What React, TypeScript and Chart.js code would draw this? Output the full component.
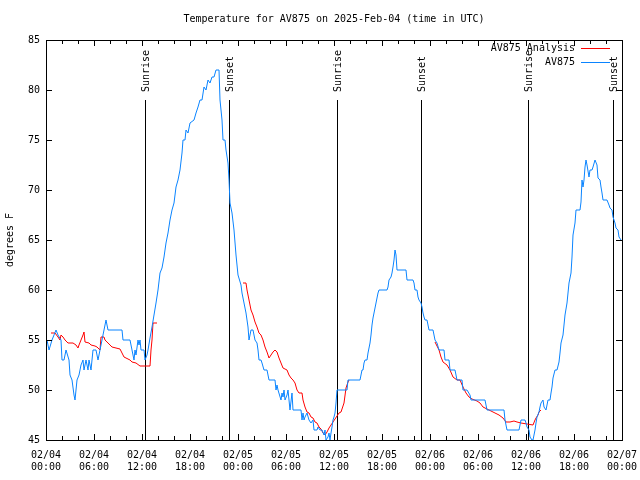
import React, { useEffect, useRef } from "react";
import { Chart, registerables } from "chart.js";
Chart.register(...registerables);

// hours since 02/04 00:00 UTC
const blueHours = [
  0.125, 0.375, 0.75, 1.25, 1.5, 1.875, 2.0, 2.25, 2.5, 2.875, 3.0, 3.25, 3.5, 3.625, 3.875, 4.125, 4.375, 4.625, 4.75, 5.0,
  5.25, 5.375, 5.625, 5.875, 6.25, 6.5, 6.75, 7.0, 7.25, 7.5, 7.625, 7.75, 9.5, 9.625, 10.5, 10.75, 11.0, 11.125, 11.25, 11.5,
  11.625, 11.75, 11.875, 12.25, 12.375, 12.625, 12.75, 13.0, 13.25, 13.5, 13.75, 14.0, 14.25, 14.5, 14.75, 15.0, 15.25, 15.5, 15.75, 16.0,
  16.25, 16.5, 16.75, 17.0, 17.125, 17.375, 17.5, 17.75, 18.0, 18.5, 18.75, 19.0, 19.25, 19.5, 19.75, 20.0, 20.25, 20.5, 20.75, 21.0,
  21.25, 21.625, 21.75, 22.0, 22.125, 22.375, 22.5, 22.75, 22.875, 23.0, 23.25, 23.5, 23.75, 24.0, 24.375, 24.5, 24.75, 25.0, 25.125, 25.25,
  25.375, 25.5, 25.625, 25.875, 26.0, 26.125, 26.375, 26.5, 26.625, 26.875, 27.0, 27.25, 27.625, 27.875, 28.625, 28.75, 28.875, 29.0, 29.375, 29.5,
  29.625, 29.75, 29.875, 30.125, 30.25, 30.375, 30.5, 30.75, 30.875, 31.875, 32.0, 32.125, 32.25, 32.375, 32.625, 32.875, 33.125, 33.375, 33.5, 33.875,
  34.0, 34.25, 34.5, 34.75, 34.875, 35.0, 35.25, 35.375, 35.5, 35.625, 35.75, 35.875, 36.0, 36.125, 36.25, 36.375, 37.625, 37.75, 39.25, 39.375,
  39.5, 39.625, 39.75, 39.875, 40.125, 40.25, 40.375, 40.5, 40.625, 40.75, 40.875, 41.0, 41.125, 41.25, 41.375, 41.5, 41.625, 42.625, 42.75, 42.875,
  43.125, 43.25, 43.375, 43.5, 43.625, 43.75, 43.875, 45.0, 45.125, 45.875, 46.0, 46.125, 46.375, 46.5, 46.625, 46.875, 47.0, 47.125, 47.25, 47.375,
  47.625, 47.75, 47.875, 48.375, 48.625, 48.875, 49.125, 49.75, 49.875, 50.375, 50.5, 51.125, 51.375, 52.0, 52.125, 52.625, 53.0, 53.125, 54.875, 55.125,
  57.25, 57.375, 57.625, 59.125, 59.25, 59.375, 59.875, 60.0, 60.125, 60.375, 60.5, 60.75, 60.875, 61.125, 61.25, 61.375, 61.625, 61.75, 61.875, 62.125,
  62.25, 62.5, 62.625, 62.75, 63.0, 63.125, 63.25, 63.375, 63.625, 63.875, 64.125, 64.25, 64.375, 64.625, 64.75, 64.875, 65.125, 65.25, 65.375, 65.625,
  65.75, 65.875, 66.125, 66.25, 66.75, 66.875, 67.0, 67.125, 67.25, 67.375, 67.5, 67.625, 67.875, 68.0, 68.25, 68.375, 68.625, 68.875, 69.0, 69.25,
  69.375, 69.5, 69.625, 70.125, 70.375, 70.5, 70.75, 70.875, 71.125, 71.25, 71.5, 71.625, 71.875,
];
const blueTemps = [
  55, 54, 55, 56, 55.5, 55, 53, 53, 54, 53, 51.5, 51, 49.5, 49, 51, 51.5, 52.5, 53, 52, 53,
  52, 53, 52, 54, 54, 53, 54, 55, 56, 57, 56.5, 56, 56, 55, 55, 54, 53, 54, 53.5, 55,
  54.5, 55, 54, 54, 53, 53.5, 54, 55.2, 56.3, 57.5, 58.7, 60, 61.7, 62.2, 63.3, 64.7, 65.7, 67, 68, 68.7,
  70.3, 71, 72, 73.7, 75, 75, 76, 75.7, 76.7, 77, 77.7, 78.3, 79, 79, 80.3, 80, 81, 80.7, 81.3, 81.3,
  82, 82, 79, 77, 75, 75, 74, 72.7, 71, 68.7, 67.7, 66, 63.5, 61.5, 60.5, 59.7, 58.7, 57.7, 57, 56.3,
  55, 55.5, 56, 56, 55.5, 55, 54.7, 54, 53, 53, 52.7, 52, 52, 51, 51, 50, 50.5, 50, 49, 49.7,
  49.3, 50, 49, 49.5, 50, 49, 48, 49.7, 48, 48, 47, 47.7, 47, 47.3, 47.7, 47, 46.7, 47, 46, 46,
  46.3, 46, 46, 45.5, 46, 45, 45.3, 45.7, 45, 45.7, 46.3, 47, 47.3, 47.7, 48.7, 50, 50, 51, 51, 51.5,
  52, 52, 52.7, 53, 53, 53.7, 54.2, 54.7, 55.5, 56.5, 57.2, 57.7, 58.2, 58.7, 59.2, 59.7, 60, 60, 60.3, 61,
  61.3, 61.7, 62.3, 63, 64, 63.5, 62, 62, 61, 61, 60.7, 60, 60, 59.3, 59, 58.7, 58.3, 57.7, 57.3, 57,
  57, 56.5, 56, 56, 55, 54.7, 54, 54, 53, 53, 52, 52, 51, 51, 50, 50, 49.5, 49, 49, 48,
  48, 47, 46, 46, 46.5, 47, 47, 46.7, 46.3, 46, 45.3, 45, 45, 46, 46.7, 47.3, 47.8, 48.3, 48.7, 49,
  48.3, 48, 48.5, 49, 49, 49.7, 50.3, 51.2, 52, 52, 52.8, 53.7, 54.7, 55.5, 56.5, 57.5, 58.7, 59.7, 60.7, 61.7,
  63.3, 65.5, 66.7, 68, 68, 68.8, 71, 70.3, 71, 72.3, 73, 72.5, 71.3, 72, 72, 72.3, 73, 72.5, 71.2, 71,
  70.3, 69.7, 69, 69, 68.5, 68.2, 68, 67.3, 66.7, 66.2, 66, 65.3, 65,
];

// analysis series; null marks a gap
const redHours = [
  0.625, 1.125, 1.5, 1.75, 1.875, 2.125, 2.375, 2.625, 2.75, 3.375, 3.75, 4.0, 4.125, 4.375, 4.625, 4.75, 4.875, 5.375, 5.625, 6.125,
  6.375, 6.75, 6.875, 7.25, 7.375, 7.75, 8.25, 8.75, 9.25, 9.5, 9.75, 10.0, 10.5, 10.75, 11.25, 11.75, 13.0, 13.125, 13.25, 13.375,
  13.875, 14.0,
  24.625, 25.0, 25.125, 25.375, 25.625, 25.875, 26.125, 26.375, 26.625, 26.875, 27.125, 27.375, 27.625, 27.875, 28.125, 28.375, 28.625, 28.875, 29.125, 29.375,
  29.625, 30.125, 30.375, 30.625, 30.875, 31.125, 31.375, 31.625, 32.0, 32.125, 32.375, 32.625, 32.875, 33.125, 33.375, 33.625, 33.875, 34.125, 34.375, 34.625,
  34.875, 35.125, 35.375, 35.625, 35.875, 36.125, 36.375, 36.625, 36.875, 37.25, 37.5, 37.75, 37.875, 38.0,
  48.625, 49.125, 49.375, 49.625, 50.125, 50.5, 50.875, 51.375, 51.75, 52.125, 52.5, 52.875, 53.25, 53.875, 54.25, 54.625, 55.125, 55.875, 56.625, 57.125,
  57.5, 58.0, 58.5, 58.875, 59.375, 60.125, 60.875, 61.125, 61.25, 61.5, 61.625, 61.875,
];
const redTemps = [
  55.7, 55.7, 55.3, 55, 55.5, 55.3, 55, 54.8, 54.7, 54.7, 54.5, 54.2, 54.5, 55, 55.5, 55.8, 54.8, 54.7, 54.5, 54.4,
  54.3, 54, 55.3, 55.3, 55, 54.7, 54.3, 54.2, 54.1, 53.7, 53.3, 53.2, 53, 52.8, 52.7, 52.4, 52.4, 54, 55, 56.7,
  56.7, null,
  60.7, 60.7, 60, 59, 58, 57.5, 56.8, 56.3, 55.7, 55.5, 55, 54.3, 53.8, 53.2, 53.5, 53.8, 54, 53.8, 53.2, 52.7,
  52.2, 52, 51.5, 51.2, 51, 50.7, 50, 49.7, 49.7, 49, 48.3, 47.8, 47.7, 47.3, 47.2, 46.8, 46.7, 46.3, 46.1, 45.7,
  45.5, 45.8, 46.2, 46.5, 46.8, 47.1, 47.4, 47.7, 47.8, 48.7, 50.2, 50.8, 51, null,
  54.8, 54, 53.3, 52.8, 52.5, 52, 51.3, 51, 51, 50.3, 49.7, 49.3, 49.1, 48.9, 48.7, 48.3, 48.1, 47.8, 47.5, 47.2,
  46.8, 46.8, 46.9, 46.8, 46.7, 46.6, 46.5, 47, 47.2, 47.5, 47.8, 48,
];

const xTickLabels = [
  ["02/04", "00:00"], ["02/04", "06:00"], ["02/04", "12:00"], ["02/04", "18:00"],
  ["02/05", "00:00"], ["02/05", "06:00"], ["02/05", "12:00"], ["02/05", "18:00"],
  ["02/06", "00:00"], ["02/06", "06:00"], ["02/06", "12:00"], ["02/06", "18:00"],
  ["02/07", "00:00"],
];

const sunLabels = ["Sunrise", "Sunset", "Sunrise", "Sunset", "Sunrise", "Sunset"];
const sunHours = [12.375, 22.875, 36.375, 46.875, 60.3, 70.875];

const TITLE = "Temperature for AV875 on 2025-Feb-04 (time in UTC)";
const Y_TITLE = "degrees F";
const FAMILY = '"DejaVu Sans Mono", "Liberation Mono", monospace';
const FONT = "10px " + FAMILY;

const decorPlugin = {
  id: "decor",
  beforeDatasetsDraw(chart: any) {
    const { ctx, chartArea, scales } = chart;
    ctx.save();
    ctx.strokeStyle = "#000";
    ctx.fillStyle = "#000";
    ctx.lineWidth = 1;
    ctx.font = FONT;
    sunHours.forEach((h, i) => {
      const x = Math.round(scales.x.getPixelForValue(h)) + 0.5;
      ctx.beginPath();
      ctx.moveTo(x, chartArea.top + 60);
      ctx.lineTo(x, chartArea.bottom);
      ctx.stroke();
      ctx.save();
      ctx.translate(x + 1, chartArea.top + 52);
      ctx.rotate(-Math.PI / 2);
      ctx.textAlign = "left";
      ctx.textBaseline = "middle";
      ctx.fillText(sunLabels[i], 0, 0);
      ctx.restore();
    });
    ctx.restore();
  },
  afterDraw(chart: any) {
    const { ctx, chartArea, scales } = chart;
    const { left, right, top, bottom } = chartArea;
    ctx.save();
    ctx.strokeStyle = "#000";
    ctx.fillStyle = "#000";
    ctx.lineWidth = 1;
    ctx.strokeRect(Math.round(left) + 0.5, Math.round(top) + 0.5, Math.round(right - left), Math.round(bottom - top));
    ctx.beginPath();
    scales.x.ticks.forEach((t: any) => {
      const x = Math.round(scales.x.getPixelForValue(t.value)) + 0.5;
      const len = t.value % 6 === 0 ? 6 : 4;
      ctx.moveTo(x, bottom);
      ctx.lineTo(x, bottom - len);
      ctx.moveTo(x, top);
      ctx.lineTo(x, top + len);
    });
    scales.y.ticks.forEach((t: any) => {
      const y = Math.round(scales.y.getPixelForValue(t.value)) + 0.5;
      ctx.moveTo(left, y);
      ctx.lineTo(left + 6, y);
      ctx.moveTo(right, y);
      ctx.lineTo(right - 6, y);
    });
    ctx.stroke();
    ctx.font = FONT;
    ctx.textAlign = "center";
    ctx.textBaseline = "middle";
    ctx.fillText(TITLE, (left + right) / 2, 19);
    ctx.save();
    ctx.translate(10, (top + bottom) / 2);
    ctx.rotate(-Math.PI / 2);
    ctx.fillText(Y_TITLE, 0, 0);
    ctx.restore();
    const ds = chart.data.datasets;
    ds.forEach((d: any, i: number) => {
      const y = top + 8 + i * 14;
      ctx.textAlign = "right";
      ctx.fillStyle = "#000";
      ctx.fillText(d.label, right - 47, y);
      ctx.strokeStyle = d.borderColor;
      ctx.beginPath();
      ctx.moveTo(right - 41, Math.round(y) + 0.5);
      ctx.lineTo(right - 12, Math.round(y) + 0.5);
      ctx.stroke();
    });
    ctx.restore();
  },
};

export default function App() {
  const ref = useRef<HTMLCanvasElement>(null);
  useEffect(() => {
    const redData = redHours.map((h, i) => ({ x: h, y: redTemps[i] }));
    const blueData = blueHours.map((h, i) => ({ x: h, y: blueTemps[i] }));
    const chart = new Chart(ref.current!, {
      type: "line",
      data: {
        datasets: [
          {
            label: "AV875 Analysis",
            data: redData as any,
            borderColor: "#ff0000",
            borderWidth: 1,
            pointRadius: 0,
            spanGaps: false,
            tension: 0,
            order: 2,
          },
          {
            label: "AV875",
            data: blueData as any,
            borderColor: "#0a84ff",
            borderWidth: 1,
            pointRadius: 0,
            tension: 0,
            order: 1,
          },
        ],
      },
      options: {
        responsive: false,
        animation: false,
        events: [],
        layout: { padding: { top: 40, right: 18, left: 0, bottom: 0 } },
        plugins: { legend: { display: false }, title: { display: false }, tooltip: { enabled: false } },
        scales: {
          x: {
            type: "linear",
            min: 0,
            max: 72,
            grid: { display: false, drawTicks: false },
            border: { display: false },
            ticks: {
              stepSize: 2,
              autoSkip: false,
              maxRotation: 0,
              minRotation: 0,
              padding: 9,
              color: "#000",
              font: { family: FAMILY, size: 10 },
              callback: (v: any) => (Number(v) % 6 === 0 ? xTickLabels[Number(v) / 6] : ""),
            },
            afterFit: (s: any) => {
              s.height = 40;
              s.paddingLeft = 0;
              s.paddingRight = 0;
            },
          },
          y: {
            min: 45,
            max: 85,
            grid: { display: false, drawTicks: false },
            border: { display: false },
            ticks: {
              stepSize: 5,
              padding: 6,
              color: "#000",
              font: { family: FAMILY, size: 10 },
            },
            afterFit: (s: any) => {
              s.width = 46;
              s.paddingTop = 0;
              s.paddingBottom = 0;
            },
          },
        },
      },
      plugins: [decorPlugin],
    });
    return () => chart.destroy();
  }, []);
  return (
    <div style={{ position: "fixed", left: 0, top: 0, width: 640, height: 480, background: "#fff" }}>
      <canvas ref={ref} width={640} height={480} />
    </div>
  );
}
